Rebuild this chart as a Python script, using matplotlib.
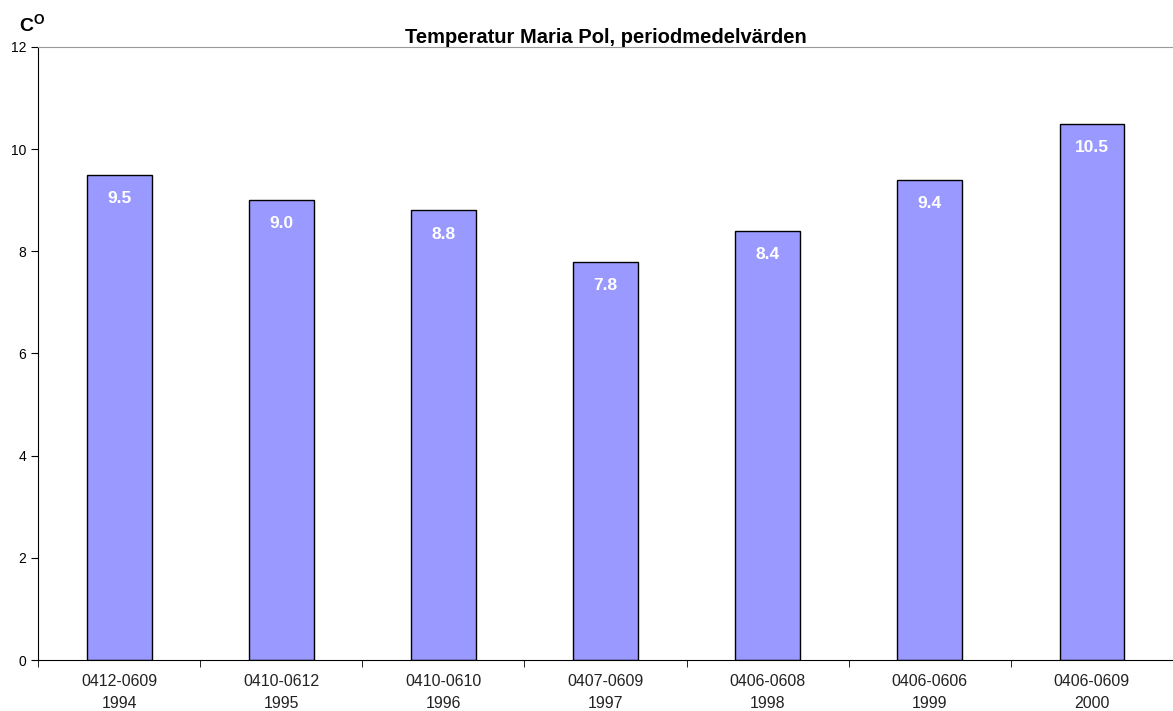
import numpy as np
import matplotlib.pyplot as plt

plt.rcParams['font.family'] = ['Liberation Sans', 'DejaVu Sans']

perioder = ['0412-0609\n1994', '0410-0612\n1995', '0410-0610\n1996', '0407-0609\n1997',
            '0406-0608\n1998', '0406-0606\n1999', '0406-0609\n2000']
temp = [9.5, 9.0, 8.8, 7.8, 8.4, 9.4, 10.5]

fig = plt.figure(figsize=(11.73, 7.11), dpi=100)
ax = fig.add_axes([0.0324, 0.0717, 0.9676, 0.8623])

x = np.arange(len(temp))
bars = ax.bar(x, temp, width=0.4, color='#9999FF', edgecolor='black', linewidth=1)
for xi, v in zip(x, temp):
    ax.annotate(f'{v:.1f}', (xi, v), xytext=(0, -17), textcoords='offset points',
                ha='center', va='center', color='white', fontweight='bold', fontsize=12.5)

ax.set_xlim(-0.5, len(temp) - 0.5)
ax.set_ylim(0, 12)
ax.set_yticks([0, 2, 4, 6, 8, 10, 12])
ax.set_xticks(x)
ax.set_xticklabels(perioder, fontsize=11.4, linespacing=1.55, color='#222222')
ax.tick_params(axis='x', length=0, pad=10)
ax.set_xticks(np.arange(len(temp) + 1) - 0.5, minor=True)
ax.tick_params(axis='x', which='minor', length=5, direction='out')
ax.tick_params(axis='y', labelsize=10, length=5, direction='out')

ax.spines['right'].set_visible(False)
ax.spines['top'].set_color('#999999')
ax.spines['left'].set_color('black')
ax.spines['bottom'].set_color('black')

ax.set_title('Temperatur Maria Pol, periodmedelvärden', fontsize=14.5, fontweight='bold', pad=3)
fig.text(0.016, 0.955, 'C$^\\mathregular{O}$', fontsize=14, fontweight='bold')

fig.savefig('out.png', dpi=100)
